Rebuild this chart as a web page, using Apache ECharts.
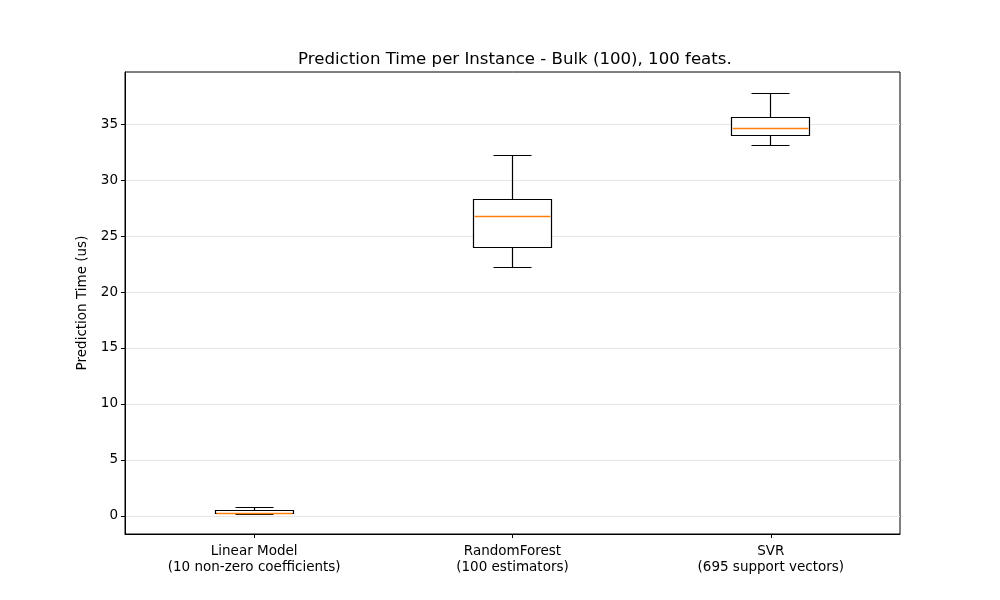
<!DOCTYPE html>
<html>
<head>
<meta charset="utf-8">
<script src="https://cdn.jsdelivr.net/npm/echarts@6/dist/echarts.min.js"></script>
<style>html,body{margin:0;padding:0;background:#fff;}#chart{width:1000px;height:600px;}</style>
</head>
<body>
<div id="chart"></div>
<script>
const categories = ['Linear Model\n(10 non-zero coefficients)', 'RandomForest\n(100 estimators)', 'SVR\n(695 support vectors)'];
const whiskerLow = [0.15, 22.22, 33.06];
const q1 = [0.16, 24.0, 34.01];
const median = [0.19, 26.77, 34.64];
const q3 = [0.49, 28.29, 35.59];
const whiskerHigh = [0.74, 32.17, 37.77];
const yTicks = [0, 5, 10, 15, 20, 25, 30, 35];
const titleText = 'Prediction Time per Instance - Bulk (100), 100 feats.';
const yName = 'Prediction Time (us)';

const FONT = 'DejaVu Sans';
const data = categories.map((c, i) => [i, whiskerLow[i], q1[i], median[i], q3[i], whiskerHigh[i]]);

function crisp(v) { return Math.round(v - 0.5) + 0.5; }

function renderItem(params, api) {
  const idx = api.value(0);
  const band = api.size([1, 0])[0];
  const cx = crisp(api.coord([idx, 0])[0]);
  const boxHalf = band * 0.15;
  const capHalf = band * 0.075;
  const yMin = crisp(api.coord([idx, api.value(1)])[1]);
  const yQ1 = crisp(api.coord([idx, api.value(2)])[1]);
  const yMed = crisp(api.coord([idx, api.value(3)])[1]);
  const yQ3 = crisp(api.coord([idx, api.value(4)])[1]);
  const yMax = crisp(api.coord([idx, api.value(5)])[1]);
  const bx0 = crisp(cx - boxHalf), bx1 = crisp(cx + boxHalf);
  const cx0 = crisp(cx - capHalf), cx1 = crisp(cx + capHalf);
  const black = { stroke: '#000000', lineWidth: 1.2, fill: null, opacity: 1 };
  return {
    type: 'group',
    children: [
      { type: 'line', shape: { x1: cx, y1: yQ3, x2: cx, y2: yMax }, style: black },
      { type: 'line', shape: { x1: cx, y1: yQ1, x2: cx, y2: yMin }, style: black },
      { type: 'line', shape: { x1: cx0, y1: yMax, x2: cx1, y2: yMax }, style: black },
      { type: 'line', shape: { x1: cx0, y1: yMin, x2: cx1, y2: yMin }, style: black },
      { type: 'rect', shape: { x: bx0, y: yQ3, width: bx1 - bx0, height: yQ1 - yQ3 }, style: { stroke: '#000000', lineWidth: 1.2, fill: '#ffffff', opacity: 1 } },
      { type: 'line', shape: { x1: bx0 + 1, y1: yMed, x2: bx1 - 1, y2: yMed }, style: { stroke: '#ff7f0e', lineWidth: 1.5, opacity: 1 }, z2: 10 }
    ]
  };
}

const chart = echarts.init(document.getElementById('chart'), null, { renderer: 'canvas' });
chart.setOption({
  animation: false,
  backgroundColor: '#fff',
  textStyle: { fontFamily: FONT },
  title: {
    text: titleText,
    left: 293,
    top: 46,
    textStyle: { fontFamily: FONT, fontSize: 16.6, fontWeight: 'normal', color: '#000' }
  },
  grid: {
    left: 125, right: 100, top: 72, bottom: 66,
    show: true, borderColor: '#000', borderWidth: 1, backgroundColor: 'transparent'
  },
  xAxis: {
    type: 'category',
    data: categories,
    boundaryGap: true,
    axisLine: { show: true, onZero: false, lineStyle: { color: '#000', width: 1 } },
    axisTick: { show: true, alignWithLabel: true, length: 4, lineStyle: { color: '#000' } },
    axisLabel: { color: '#000', fontFamily: FONT, fontSize: 13.5, lineHeight: 16, margin: 9, interval: 0 },
    splitLine: { show: false }
  },
  yAxis: {
    type: 'value',
    min: -1.63,
    max: 39.67,
    name: yName,
    nameLocation: 'middle',
    nameGap: 28,
    nameTextStyle: { color: '#000', fontFamily: FONT, fontSize: 13.5 },
    axisLine: { show: true, lineStyle: { color: '#000', width: 1 } },
    axisTick: { show: true, length: 4, inside: false, customValues: yTicks, lineStyle: { color: '#000' } },
    axisLabel: { color: '#000', fontFamily: FONT, fontSize: 13.5, margin: 7, customValues: yTicks },
    splitLine: { show: true, lineStyle: { color: '#e6e6e6', width: 1 } }
  },
  series: [{
    type: 'custom',
    renderItem: renderItem,
    encode: { x: 0, y: [1, 2, 3, 4, 5] },
    data: data,
    clip: true,
    z: 5
  }]
});
</script>
</body>
</html>
